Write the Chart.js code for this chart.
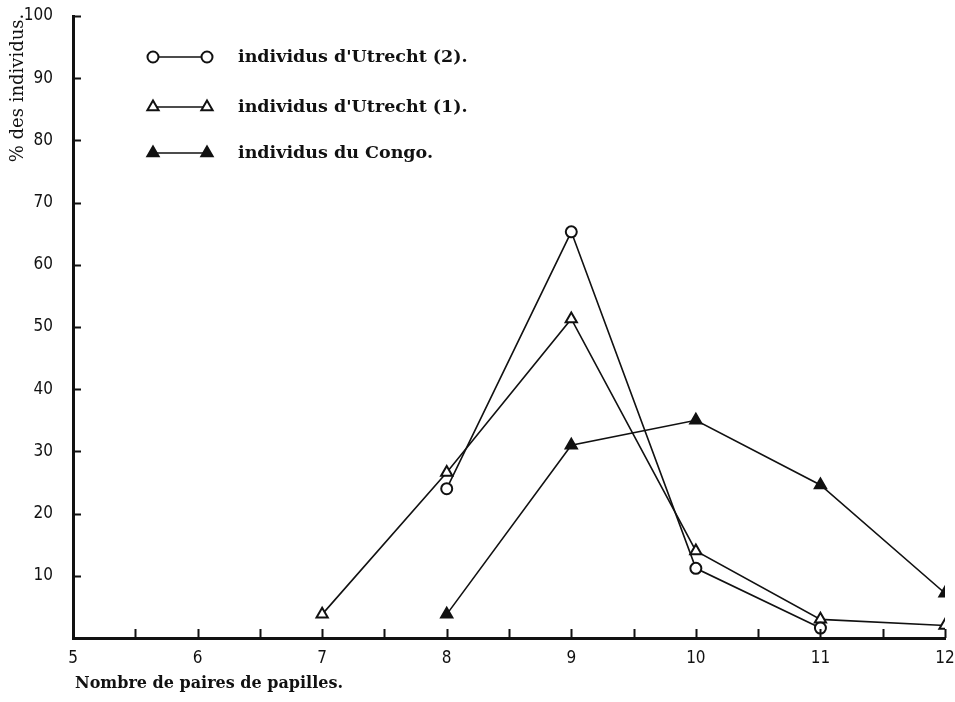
<!DOCTYPE html>
<html>
<head>
<meta charset="utf-8">
<script src="https://cdn.jsdelivr.net/npm/chart.js@4/dist/chart.umd.min.js"></script>
<style>
html, body { margin: 0; padding: 0; background: #fff; }
#wrap { width: 955px; height: 702px; }
</style>
</head>
<body>
<div id="wrap"><canvas id="chart" width="955" height="702"></canvas></div>
<script>
// --- data
const nombrePaires = [7, 8, 9, 10, 11, 12];
const utrecht2 = [null, 24, 65.3, 11.2, 1.6, null];
const utrecht1 = [3.8, 26.6, 51.3, 14, 3, 2];
const congo = [null, 3.8, 31, 35, 24.6, 7.2];
const serieNoms = ["individus d'Utrecht (2).", "individus d'Utrecht (1).", 'individus du Congo.'];
const yTicks = [10, 20, 30, 40, 50, 60, 70, 80, 90, 100];
const xTicks = [5, 6, 7, 8, 9, 10, 11, 12];

const ink = '#111';
const tickFont = '"Liberation Sans Narrow", "DejaVu Sans Condensed", "Liberation Sans", sans-serif';

function toPoints(values) {
    return nombrePaires.map(function (x, i) { return { x: x, y: values[i] }; })
        .filter(function (p) { return p.y !== null; });
}

// inward tick marks, axis titles and the hand-made legend
const decor = {
    id: 'decor',
    afterDraw: function (chart) {
        const ctx = chart.ctx;
        const xs = chart.scales.x, ys = chart.scales.y;
        const area = chart.chartArea;
        ctx.save();
        ctx.strokeStyle = ink;
        ctx.lineWidth = 2;
        ctx.beginPath();
        yTicks.forEach(function (v) {
            const py = Math.round(ys.getPixelForValue(v)) + 0.5;
            ctx.moveTo(area.left, py);
            ctx.lineTo(area.left + 8, py);
        });
        for (let v = 5.5; v <= 12; v += 0.5) {
            const px = Math.round(xs.getPixelForValue(v)) + 0.5;
            ctx.moveTo(px, area.bottom);
            ctx.lineTo(px, area.bottom - 9);
        }
        ctx.stroke();

        // y title
        ctx.fillStyle = ink;
        ctx.font = '18px "DejaVu Serif"';
        ctx.textAlign = 'center';
        ctx.textBaseline = 'middle';
        ctx.save();
        ctx.translate(18, 88);
        ctx.rotate(-Math.PI / 2);
        ctx.fillText('% des individus.', 0, 0);
        ctx.restore();

        // x title
        ctx.font = 'bold 16px "DejaVu Serif"';
        ctx.textAlign = 'left';
        ctx.fillText('Nombre de paires de papilles.', 75, 684);

        // legend
        const rows = [57, 107, 153];
        chart.data.datasets.forEach(function (ds, i) {
            const y = rows[i];
            ctx.strokeStyle = ink;
            ctx.lineWidth = 1.5;
            ctx.beginPath();
            ctx.moveTo(153, y);
            ctx.lineTo(207, y);
            ctx.stroke();
            [153, 207].forEach(function (x) {
                ctx.fillStyle = ds.pointBackgroundColor;
                ctx.strokeStyle = ink;
                ctx.lineWidth = ds.pointBorderWidth;
                Chart.helpers.drawPoint(ctx, {
                    pointStyle: ds.pointStyle, radius: ds.pointRadius,
                    rotation: 0, borderWidth: ds.pointBorderWidth
                }, x, y);
            });
            ctx.fillStyle = ink;
            ctx.font = 'bold 17.5px "DejaVu Serif"';
            ctx.textAlign = 'left';
            ctx.fillText(serieNoms[i], 238, y);
        });
        ctx.restore();
    }
};

function serie(label, values, style, fill, radius) {
    return {
        label: label,
        data: toPoints(values),
        borderColor: ink,
        borderWidth: 1.6,
        pointStyle: style,
        pointRadius: radius,
        pointBackgroundColor: fill,
        pointBorderColor: ink,
        pointBorderWidth: 2,
        tension: 0
    };
}

function noPad(s) {
    s.paddingTop = 0; s.paddingBottom = 0; s.paddingLeft = 0; s.paddingRight = 0;
}

new Chart(document.getElementById('chart'), {
    type: 'line',
    data: {
        datasets: [
            serie(serieNoms[0], utrecht2, 'circle', '#fff', 5.5),
            serie(serieNoms[1], utrecht1, 'triangle', '#fff', 6.5),
            serie(serieNoms[2], congo, 'triangle', ink, 6.5)
        ]
    },
    options: {
        responsive: false,
        animation: false,
        layout: { padding: { top: 16, right: 10, left: 0, bottom: 0 } },
        plugins: { legend: { display: false }, tooltip: { enabled: false } },
        scales: {
            x: {
                type: 'linear',
                min: 5,
                max: 12,
                afterBuildTicks: function (s) { s.ticks = xTicks.map(function (v) { return { value: v }; }); },
                afterFit: function (s) { s.height = 64; noPad(s); },
                grid: { drawOnChartArea: false, drawTicks: false },
                border: { display: true, color: ink, width: 3 },
                ticks: { color: ink, padding: 10, font: { family: tickFont, size: 17 } }
            },
            y: {
                min: 0,
                max: 100,
                afterBuildTicks: function (s) { s.ticks = yTicks.map(function (v) { return { value: v }; }); },
                afterFit: function (s) { s.width = 73; noPad(s); },
                grid: { drawOnChartArea: false, drawTicks: false },
                border: { display: true, color: ink, width: 3 },
                ticks: { color: ink, padding: 20, font: { family: tickFont, size: 17 } }
            }
        }
    },
    plugins: [decor]
});
</script>
</body>
</html>
